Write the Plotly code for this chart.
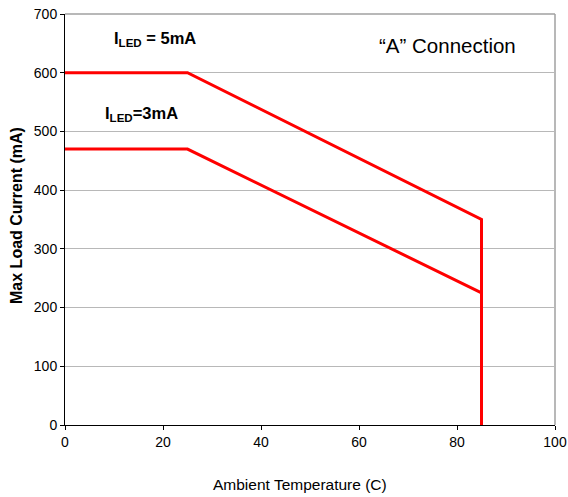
import plotly.graph_objects as go

# Data
temp_5mA = [0, 25, 85, 85]
current_5mA = [600, 600, 350, 0]
temp_3mA = [0, 25, 85]
current_3mA = [470, 470, 225]

x_ticks = [0, 20, 40, 60, 80, 100]
y_ticks = [0, 100, 200, 300, 400, 500, 600, 700]

FONT = "Liberation Sans, Arial, sans-serif"
RED = "#ff0000"

fig = go.Figure()
fig.add_trace(go.Scatter(x=temp_5mA, y=current_5mA, mode="lines",
                         line=dict(color=RED, width=3), name="ILED=5mA"))
fig.add_trace(go.Scatter(x=temp_3mA, y=current_3mA, mode="lines",
                         line=dict(color=RED, width=3), name="ILED=3mA"))

fig.update_layout(
    width=568, height=497,
    margin=dict(l=65, r=13, t=14, b=72),
    paper_bgcolor="white", plot_bgcolor="white",
    showlegend=False,
    font=dict(family=FONT, color="black", size=14),
)
fig.update_xaxes(
    range=[0, 100], tickvals=x_ticks, showgrid=False, zeroline=False,
    showline=True, linecolor="black", linewidth=1,
    ticks="outside", ticklen=4, tickcolor="black",
    tickfont=dict(size=14), ticklabeloverflow="allow", automargin=False,
)
fig.update_yaxes(
    range=[0, 700], tickvals=y_ticks, showgrid=True, gridcolor="#b8b8b8", gridwidth=1,
    zeroline=False, showline=True, linecolor="black", linewidth=1,
    ticks="outside", ticklen=4, tickcolor="black",
    tickfont=dict(size=14), ticklabeloverflow="allow", automargin=False,
)
# right and top border
fig.add_shape(type="line", xref="paper", yref="paper", x0=1, x1=1, y0=0, y1=1,
              line=dict(color="#a0a0a0", width=1.5), layer="below")
fig.add_shape(type="line", xref="paper", yref="paper", x0=0, x1=1, y0=1, y1=1,
              line=dict(color="#a0a0a0", width=1.5), layer="below")

fig.add_annotation(x=-0.098, y=0.511, xref="paper", yref="paper",
                   xanchor="center", yanchor="middle",
                   text="<b>Max Load Current (mA)</b>", textangle=-90,
                   showarrow=False, font=dict(size=16))
fig.add_annotation(x=0.48, y=-0.1436, xref="paper", yref="paper",
                   xanchor="center", yanchor="middle",
                   text="Ambient Temperature (C)",
                   showarrow=False, font=dict(size=15.5))

fig.add_annotation(x=18.4, y=658, text="<b>I<sub>LED</sub> = 5mA</b>",
                   showarrow=False, font=dict(size=16.5))
fig.add_annotation(x=15.6, y=530, text="<b>I<sub>LED</sub>=3mA</b>",
                   showarrow=False, font=dict(size=16.5))
fig.add_annotation(x=78, y=646, text="\u201cA\u201d Connection",
                   showarrow=False, font=dict(size=20.5))

fig.write_html("out.html", config={"displayModeBar": False},
               post_script="document.body.style.margin='0';")
